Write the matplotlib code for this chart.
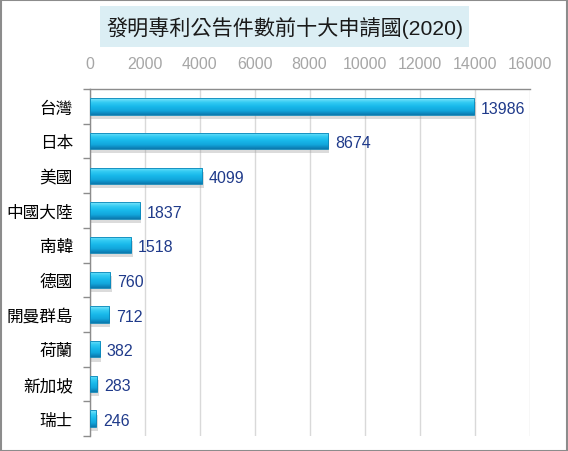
import numpy as np
import matplotlib
matplotlib.use('Agg')
import matplotlib.pyplot as plt
from matplotlib.patches import Rectangle
from matplotlib.colors import LinearSegmentedColormap
import matplotlib.patheffects as pe

plt.rcParams['font.family'] = ['Liberation Sans', 'Noto Sans CJK TC', 'DejaVu Sans']

countries = ['台灣', '日本', '美國', '中國大陸', '南韓', '德國', '開曼群島', '荷蘭', '新加坡', '瑞士']
counts = [13986, 8674, 4099, 1837, 1518, 760, 712, 382, 283, 246]
x_ticks = [0, 2000, 4000, 6000, 8000, 10000, 12000, 14000, 16000]
title = '發明專利公告件數前十大申請國(2020)'

fig = plt.figure(figsize=(5.68, 4.52), dpi=100)
W, H = 568, 452

# outer border
fig.patches.append(Rectangle((0.001, 0.001), 0.997, 0.997, transform=fig.transFigure,
                             fill=False, edgecolor='#8c8c8c', lw=1.5))

# title box
fig.patches.append(Rectangle((100 / W, 1 - 48 / H), 369 / W, 41 / H, transform=fig.transFigure,
                             facecolor='#dbeef4', edgecolor='none'))
fig.text(285 / W, 1 - 28 / H, title, ha='center', va='center', fontsize=15.2, color='#1a1a1a')

ax = fig.add_axes([89.5 / W, 1 - 437 / H, 440 / W, 347 / H])

cmap = LinearSegmentedColormap.from_list('bar', ['#7fe6fb', '#33cbf3', '#18b8ea', '#12a6dc', '#0b78ad'])
grad = np.linspace(0, 1, 64).reshape(-1, 1)
h = 0.47
for i, v in enumerate(counts):
    r = Rectangle((0, i - h / 2), v, h, facecolor='#18b8ea', edgecolor='none', zorder=2,
                  path_effects=[pe.SimplePatchShadow(offset=(1, -3), shadow_rgbFace='#9a9a9a', alpha=0.35),
                                pe.Normal()])
    ax.add_patch(r)
    im = ax.imshow(grad, cmap=cmap, aspect='auto', extent=(0, v, i + h / 2, i - h / 2),
                   origin='upper', zorder=3, interpolation='bilinear')
    im.set_clip_path(r)
    ax.add_patch(Rectangle((0, i - h / 2), v, h, fill=False, edgecolor='#0c86b8', lw=0.6, zorder=4))
    ax.text(v + 250, i + 0.05, str(v), va='center', ha='left', fontsize=11.5, color='#1f3a8a', zorder=5)

ax.set_xlim(0, 16000)
ax.set_ylim(9.5, -0.5)
ax.xaxis.tick_top()
ax.set_xticks(x_ticks)
ax.set_xticklabels([str(t) for t in x_ticks])
ax.tick_params(axis='x', length=0, pad=13, labelsize=11.5, labelcolor='#a6a6a6')
ax.set_yticks(range(len(countries)))
ax.set_yticklabels(countries)
ax.tick_params(axis='y', which='major', length=0, pad=12, labelsize=12, labelcolor='#000000')
ax.set_yticks(np.arange(-0.5, len(countries)), minor=True)
ax.tick_params(axis='y', which='minor', length=5, color='#8c8c8c', width=1)
ax.grid(axis='x', color='#d9d9d9', lw=1, zorder=0)
ax.set_axisbelow(True)
for s in ['right', 'bottom']:
    ax.spines[s].set_visible(False)
for s in ['left', 'top']:
    ax.spines[s].set_color('#8c8c8c')
    ax.spines[s].set_linewidth(1)

fig.savefig('out.png', dpi=100)
